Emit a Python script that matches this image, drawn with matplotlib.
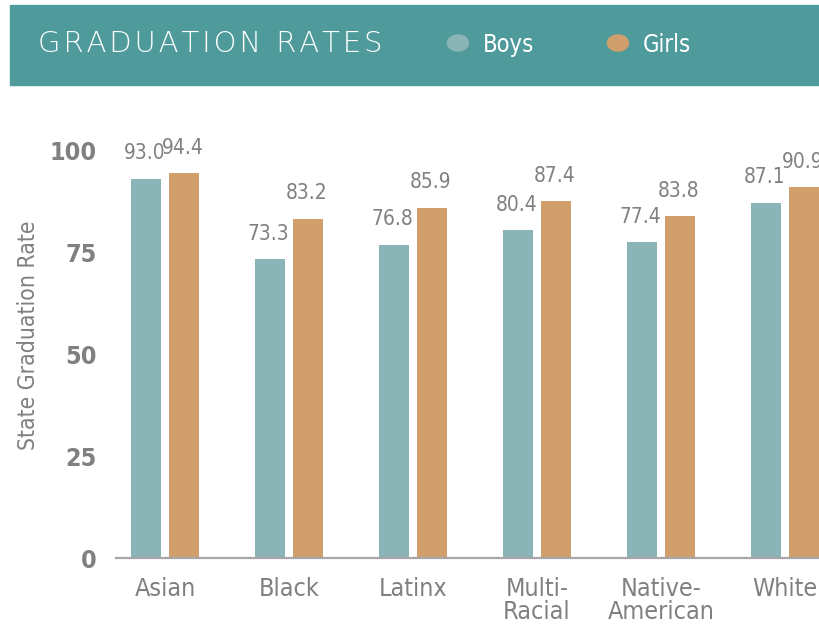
import numpy as np
import matplotlib.pyplot as plt
from matplotlib.patches import Rectangle, Circle

categories = ['Asian', 'Black', 'Latinx', 'Multi-\nRacial', 'Native-\nAmerican', 'White']
boys = [93.0, 73.3, 76.8, 80.4, 77.4, 87.1]
girls = [94.4, 83.2, 85.9, 87.4, 83.8, 90.9]
yticks = [0, 25, 50, 75, 100]

BOYS_C = '#8AB4B5'
GIRLS_C = '#D19F6C'
BAND_C = '#4F9A9B'
GREY = '#808083'

plt.rcParams['font.family'] = ['DejaVu Sans']
plt.rcParams['font.stretch'] = 'condensed'

W, H = 820, 631
fig = plt.figure(figsize=(W / 100, H / 100), dpi=100)

def fx(x):
    return x / W

def fy(y):
    return 1 - y / H

# bande titre
fig.patches.append(Rectangle((fx(10), fy(85)), 810 / W, 80 / H, transform=fig.transFigure,
                             color=BAND_C, zorder=0))
fig.text(fx(38), fy(44), '\u200a'.join('GRADUATION RATES'), color='white', fontsize=21,
         va='center', ha='left', fontweight='light', fontstretch='normal')
fig.patches.append(Circle((fx(458), fy(43)), 10.5 / W, transform=fig.transFigure,
                          color=BOYS_C, zorder=1))
fig.text(fx(483), fy(45), 'Boys', color='white', fontsize=17, va='center', ha='left')
fig.patches.append(Circle((fx(618), fy(43)), 10.5 / W, transform=fig.transFigure,
                          color=GIRLS_C, zorder=1))
fig.text(fx(643), fy(45), 'Girls', color='white', fontsize=17, va='center', ha='left')

# graphique
ax = fig.add_axes([fx(116), fy(558), 1 - fx(116), fy(130) - fy(558)])
x = np.arange(len(categories))
w = 30 / 124
off = 19 / 124
b1 = ax.bar(x - off, boys, w, color=BOYS_C)
b2 = ax.bar(x + off, girls, w, color=GIRLS_C)
for bars, vals in ((b1, boys), (b2, girls)):
    for r, v in zip(bars, vals):
        ax.annotate(f'{v:.1f}', (r.get_x() + r.get_width() / 2, v), xytext=(-1, 11),
                    textcoords='offset points', ha='center', va='bottom',
                    fontsize=15, color=GREY, annotation_clip=False)

ax.set_xlim(-0.395, 5.282)
ax.set_ylim(0, (558 - 130) / 4.08)
ax.set_yticks(yticks)
ax.set_yticklabels([str(t) for t in yticks], fontsize=18, fontweight='bold', color=GREY)
ax.set_xticks(x)
ax.set_xticklabels(categories, fontsize=18, color=GREY, linespacing=0.95, va='top')
ax.tick_params(axis='both', length=0)
ax.tick_params(axis='y', pad=14)
ax.tick_params(axis='x', pad=14)
for s in ['top', 'right', 'left']:
    ax.spines[s].set_visible(False)
ax.spines['bottom'].set_color('#a7a7aa')
ax.spines['bottom'].set_linewidth(1.6)
ax.set_ylabel('State Graduation Rate', fontsize=16.5, color=GREY)
ax.yaxis.set_label_coords(-0.108, 0.52)

fig.savefig('out.png', dpi=100)
